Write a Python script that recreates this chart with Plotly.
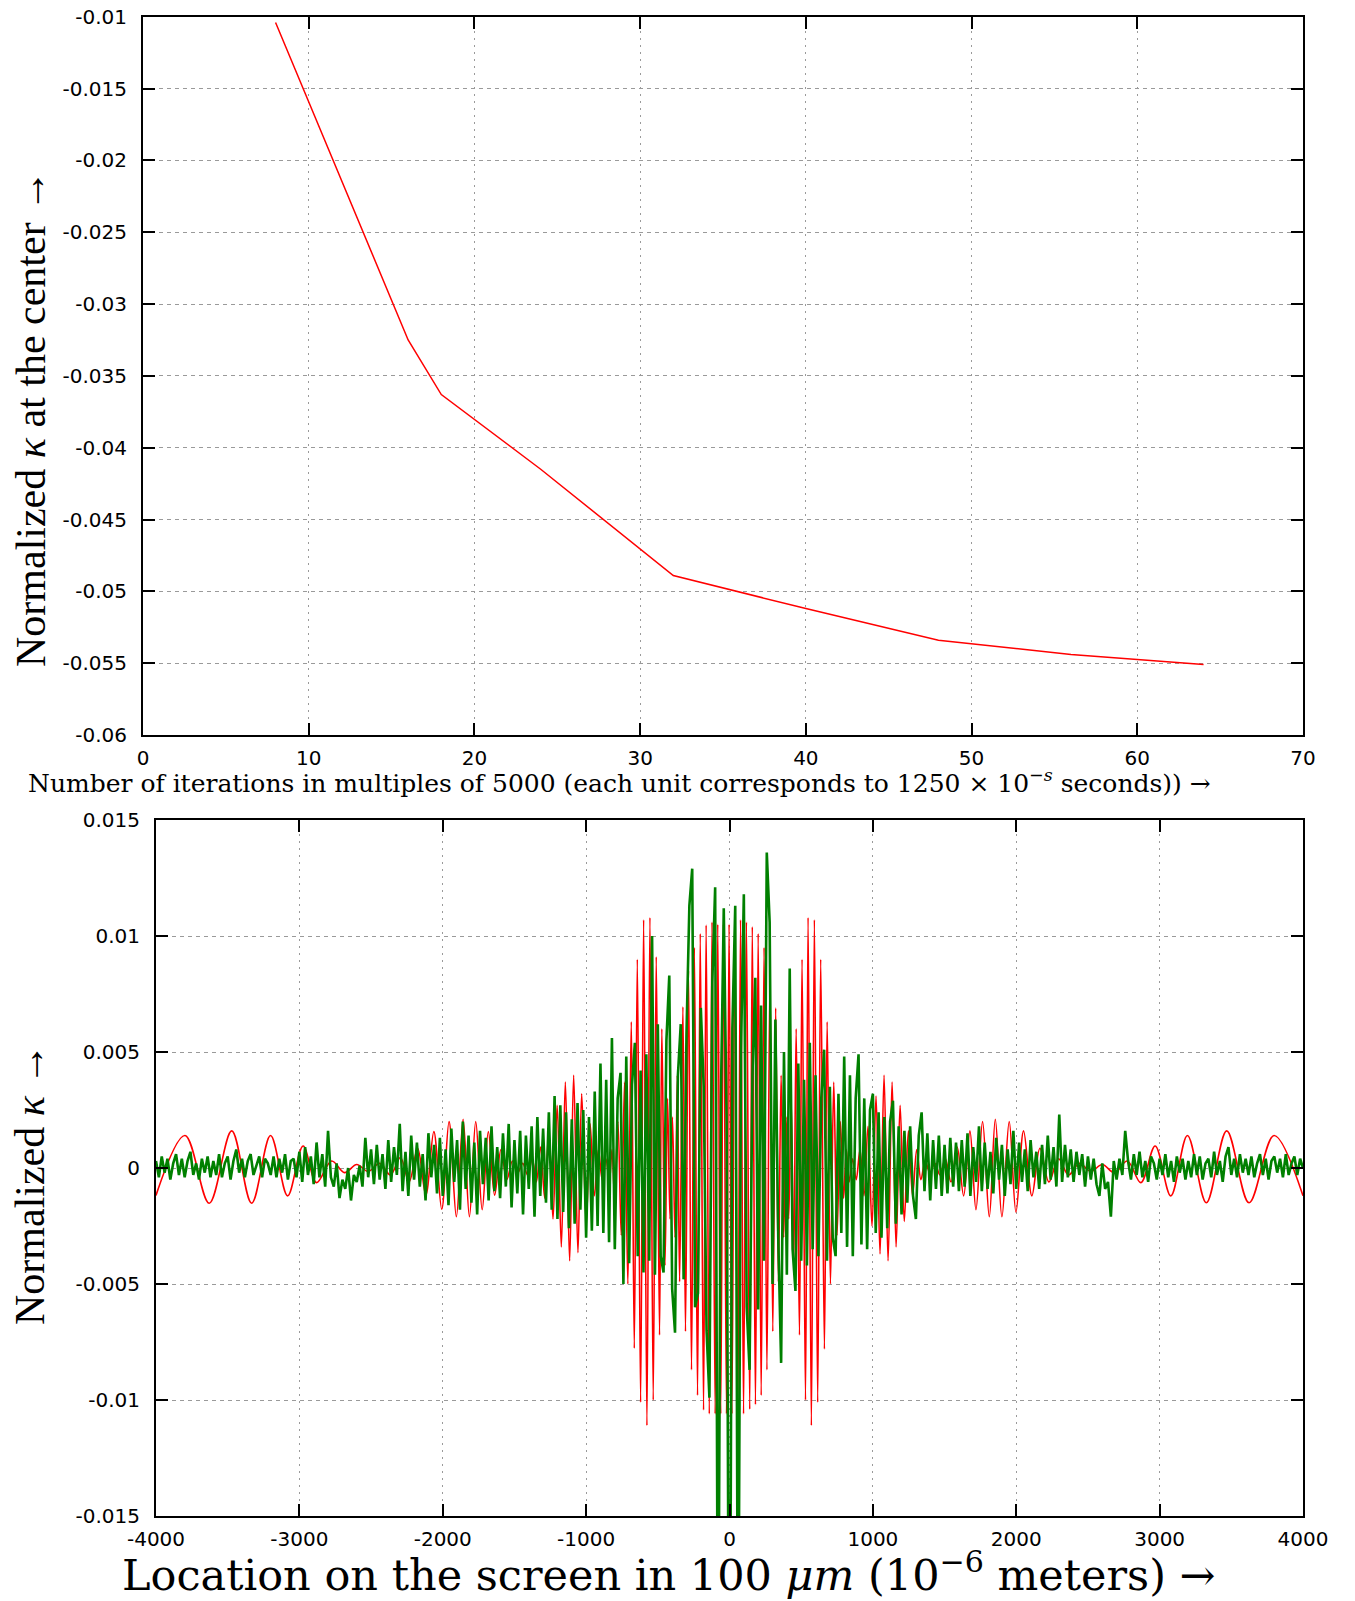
import numpy as np
import plotly.graph_objects as go

W, H = 1355, 1601
OFF = 0  # body margin is removed by the post script below

# ---- top panel: kappa at the centre vs iterations ----
iter_x = [8, 16, 18, 24, 32, 40, 48, 56, 64]
kappa_c = [-0.0104, -0.0325, -0.0363, -0.0415, -0.0489, -0.0512, -0.0534, -0.0544, -0.0551]
top_xticks = [0, 10, 20, 30, 40, 50, 60, 70]
top_yticks = [-0.01, -0.015, -0.02, -0.025, -0.03, -0.035, -0.04, -0.045, -0.05, -0.055, -0.06]
top_ylabels = ["-0.01", "-0.015", "-0.02", "-0.025", "-0.03", "-0.035", "-0.04",
               "-0.045", "-0.05", "-0.055", "-0.06"]

# ---- bottom panel: red curve, extrema (x, kappa*1e4) ----
red_x = [-4000, -3798, -3629, -3472, -3333, -3201, -3082, -2974, -2880, -2775,
         -2685, -2600, -2520, -2440, -2365, -2295, -2235, -2175, -2118, -2062,
         -2007, -1956, -1905, -1858, -1814, -1770, -1725, -1682, -1638, -1594,
         -1553, -1514, -1477, -1442, -1408, -1376, -1347, -1318, -1289, -1260,
         -1231, -1202, -1173, -1145, -1115, -1087, -1057, -1031, -999, -972,
         -943, -914, -888, -862, -838, -820, -801, -778, -755, -732,
         -709, -685, -664, -643, -620, -599, -576, -555, -532, -511,
         -488, -472, -450, -432, -415, -398, -380, -364, -348, -325,
         -307, -286, -265, -245, -223, -204, -181, -163, -141, -122,
         -100, -82, -61, -42, -21, -3, 17, 37, 58, 77,
         98, 118, 141, 159, 181, 200, 221, 241, 261, 282,
         302, 322, 341, 360, 378, 395, 413, 430, 448, 465,
         488, 506, 530, 548, 571, 592, 615, 636, 662, 681,
         704, 727, 750, 773, 796, 815, 835, 858, 884, 910,
         938, 966, 994, 1022, 1050, 1078, 1106, 1134, 1162, 1190,
         1219, 1248, 1277, 1306, 1335, 1365, 1398, 1432, 1468, 1505,
         1545, 1588, 1633, 1677, 1719, 1765, 1812, 1854, 1900, 1951,
         1998, 2051, 2109, 2165, 2228, 2295, 2365, 2440, 2520, 2600,
         2685, 2775, 2869, 2969, 3078, 3194, 3326, 3468, 3624, 3798,
         4000]
red_y = [-11.8, 14.0, -15.2, 16.0, -15.2, 14.0, -12.0, 9.5, -6.3, 3.0,
         -2.0, 1.5, -1.5, 2.0, -3.0, 4.5, -6.0, 8.5, -11.6, 15.7,
         -17.8, 20.0, -21.0, 21.0, -21.0, 20.0, -18.0, 15.7, -11.7, 8.0,
         -5.0, 3.0, -2.0, 2.0, -3.0, 4.0, -6.0, 9.0, -13.0, 16.0,
         -22.0, 27.0, -34.0, 37.0, -40.0, 40.0, -36.5, 32.0, -24.0, 19.0,
         -12.0, 8.0, -5.0, 4.0, -6.0, 8.0, -13.0, 20.0, -29.0, 37.0,
         -50.0, 63.0, -77.7, 90.0, -101.0, 107.0, -111.0, 108.0, -100.0, 91.0,
         -72.0, 60.0, -42.0, 30.0, -22.0, 22.0, -30.0, 40.0, -49.0, 69.5,
         -70.5, 85.0, -87.0, 95.0, -98.0, 101.0, -104.3, 104.7, -106.0, 106.0,
         -106.0, 105.0, -106.0, 105.0, -106.0, 105.0, -106.0, 106.0, -106.0, 107.0,
         -106.0, 106.0, -104.0, 104.0, -102.0, 101.0, -98.0, 95.0, -87.0, 84.0,
         -70.5, 69.0, -49.0, 40.0, -30.0, 22.0, -22.0, 30.0, -42.0, 60.0,
         -72.0, 90.0, -100.0, 108.0, -111.0, 107.0, -101.0, 90.0, -78.0, 63.0,
         -50.0, 37.0, -29.0, 20.0, -13.0, 8.0, -6.0, 4.0, -5.0, 8.0,
         -12.0, 18.0, -25.0, 31.0, -37.0, 40.0, -40.0, 37.0, -34.0, 27.0,
         -23.0, 16.0, -12.0, 8.0, -5.0, 3.0, -2.0, 2.0, -3.0, 4.0,
         -6.0, 9.0, -12.0, 16.0, -18.0, 20.0, -21.0, 21.0, -21.0, 20.0,
         -19.0, 16.0, -12.0, 8.5, -6.0, 4.0, -3.0, 2.0, -1.5, 1.5,
         -2.0, 3.0, -6.3, 9.5, -12.0, 14.0, -15.0, 16.0, -15.0, 14.0,
         -12.0]

# ---- bottom panel: green curve, sampled every 20 units from -4000 (kappa*1e4) ----
green_step = 20
green_y = [
    3, -4, 5, -2, 4, -5, 2, 6, -3, 4, -4, 3, 7, -3, 2, -5, 4, -2, 5, -4,
    3, -3, 6, -4, 2, 5, -5, 3, 8, -2, 4, -4, 3, 6, -3, 1, 5, -4, 4, 2,
    -3, 5, -4, 4, -2, 6, -5, 3, 4, -4, 7, -6, 9, -3, 5, -7, 11, -4, 6, -8,
    16, -4, -8, 2, -13, -5, -9, 0, -14, -3, -6, 1, -8, 13, -4, 8, -7, 10, -5, 6,
    -9, 12, -6, 9, -3, 19, -10, 7, -12, 14, -5, 11, -8, 6, -14, 15, -4, 10, -11, 13,
    -12, 8, -16, 17, -6, 12, -18, 20, -9, 14, -15, 11, -20, 16, -7, 13, -14, 18, -10, 9,
    -13, 15, -8, 19, -17, 12, -11, 16, -20, 14, -9, 18, -21, 22, -12, 17, -15, 24, -18, 31,
    -22, 27, -19, 24, -26, 21, -24, 28, -18, 25, -30, 22, -27, 33, -25, 45, -28, 38, -32, 56,
    -35, 30, 41, -50, 48, -41, 36, 54, -38, 42, -45, 49, -40, 100, -46, 62, -38, -45, 55, 83,
    -52, -71, 40, 62, -48, 58, 113, 129, -60, -54, 69, 35, -70, -99, 80, 121, -250, 30, 112, 20,
    -300, 60, 113, -250, 50, 118, -60, -87, 40, 82, -61, 70, -40, 136, 106, -50, 64, -30, -84, 50,
    -46, 86, -35, -53, 45, -40, 38, -42, 54, -35, 40, -38, 30, 51, -40, 35, -30, -38, 32, -28,
    48, -34, 40, -38, 30, 49, -33, 30, -35, 25, 32, -28, 24, -30, 22, -26, 20, 29, -24, 18,
    -20, 16, -15, 18, -12, -22, 14, 24, -10, 15, -14, 12, -9, 14, -12, 10, -11, 13, -8, 11,
    -10, 12, -8, 15, -12, 9, -6, 18, -10, 11, -9, 7, -11, 13, -5, 10, -12, 8, -7, 16,
    -9, 11, -6, 8, -10, 12, -4, 7, -9, 10, -7, 14, -5, 9, -8, 23, -6, 10, -4, 8,
    -6, 7, -3, 6, -8, 5, -5, 4, -7, -12, 2, -9, -6, -21, 3, -5, 4, -3, 16, 3,
    -5, 6, -3, 7, -4, 3, -6, 5, 2, -5, 4, -3, 6, -4, 3, -6, 5, -2, 4, -5,
    3, -4, 6, -3, 5, -5, 2, 4, -4, 7, -3, 3, -6, 5, 9, -3, 4, -4, 6, -2,
    4, -3, 5, -4, 2, 6, -3, 4, -5, 3, 5, -2, 4, -4, 6, -3, 2, 5, -3, 4,
    0,
]
green_x = -4000 + green_step * np.arange(len(green_y))

bot_xticks = [-4000, -3000, -2000, -1000, 0, 1000, 2000, 3000, 4000]
bot_yticks = [0.015, 0.01, 0.005, 0, -0.005, -0.01, -0.015]
bot_ylabels = ["0.015", "0.01", "0.005", "0", "-0.005", "-0.01", "-0.015"]


def px(x):
    return (x - OFF) / W


def py(y):
    return 1 - (y - OFF) / H


fig = go.Figure()
fig.add_trace(go.Scatter(x=iter_x, y=kappa_c, mode="lines", line=dict(color="#ff0000", width=1.5),
                         xaxis="x", yaxis="y", showlegend=False))
fig.add_trace(go.Scatter(x=red_x, y=np.array(red_y) * 1e-4, mode="lines",
                         line=dict(color="#ff0000", width=1.6, shape="spline"),
                         xaxis="x2", yaxis="y2", showlegend=False))
fig.add_trace(go.Scatter(x=green_x, y=np.array(green_y) * 1e-4, mode="lines",
                         line=dict(color="#008000", width=2.6),
                         xaxis="x2", yaxis="y2", showlegend=False))

tickfont = dict(family="DejaVu Sans", size=20, color="black")
ax = dict(showline=True, linecolor="black", linewidth=2, mirror="ticks", ticks="inside",
          ticklen=12, tickwidth=1.5, tickcolor="black", showgrid=True, gridcolor="#9a9a9a",
          gridwidth=1, zeroline=False, tickfont=tickfont, automargin=False,
          ticklabeloverflow="allow")
xax = dict(ax, griddash="2px,5px", ticklabelstandoff=4)
yax = dict(ax, griddash="4px,4px", ticklabelstandoff=10)

fig.update_layout(
    width=W, height=H, autosize=False,
    margin=dict(l=0, r=0, t=0, b=0, pad=0, autoexpand=False),
    paper_bgcolor="white", plot_bgcolor="white",
    xaxis=dict(xax, domain=[px(143), px(1303)], range=[0, 70], tickvals=top_xticks, anchor="y"),
    yaxis=dict(yax, domain=[py(735), py(16.7)], range=[-0.06, -0.0099999], tickvals=top_yticks,
               ticktext=top_ylabels, anchor="x"),
    xaxis2=dict(xax, domain=[px(156), px(1303)], range=[-4000, 4000], tickvals=bot_xticks,
                ticktext=[str(v) for v in bot_xticks], anchor="y2"),
    yaxis2=dict(yax, domain=[py(1516), py(820)], range=[-0.015, 0.015], tickvals=bot_yticks,
                ticktext=bot_ylabels, anchor="x2"),
)

serif = "DejaVu Serif"
titles = [
    ("Number of iterations in multiples of 5000 (each unit corresponds to 1250 × 10<sup>−<i>s</i></sup> seconds)) →",
     619, 781, 0, serif, 25),
    ("Location on the screen in 100 <i>μm</i> (10<sup>−6</sup> meters) →", 669, 1572, 0, serif, 43),
    ("Normalized <i>κ</i> at the center →", 31, 419, -90, "Liberation Serif", 42),
    ("Normalized <i>κ</i> →", 30, 1185, -90, "Liberation Serif", 42),
]
for text, x, y, ang, fam, size in titles:
    fig.add_annotation(text=text, x=px(x), y=py(y), xref="paper", yref="paper",
                       xanchor="center", yanchor="middle", showarrow=False, textangle=ang,
                       font=dict(family=fam, size=size, color="black"))

fig.write_html("out.html", config={"displayModeBar": False},
               post_script="document.body.style.margin = '0px';")
